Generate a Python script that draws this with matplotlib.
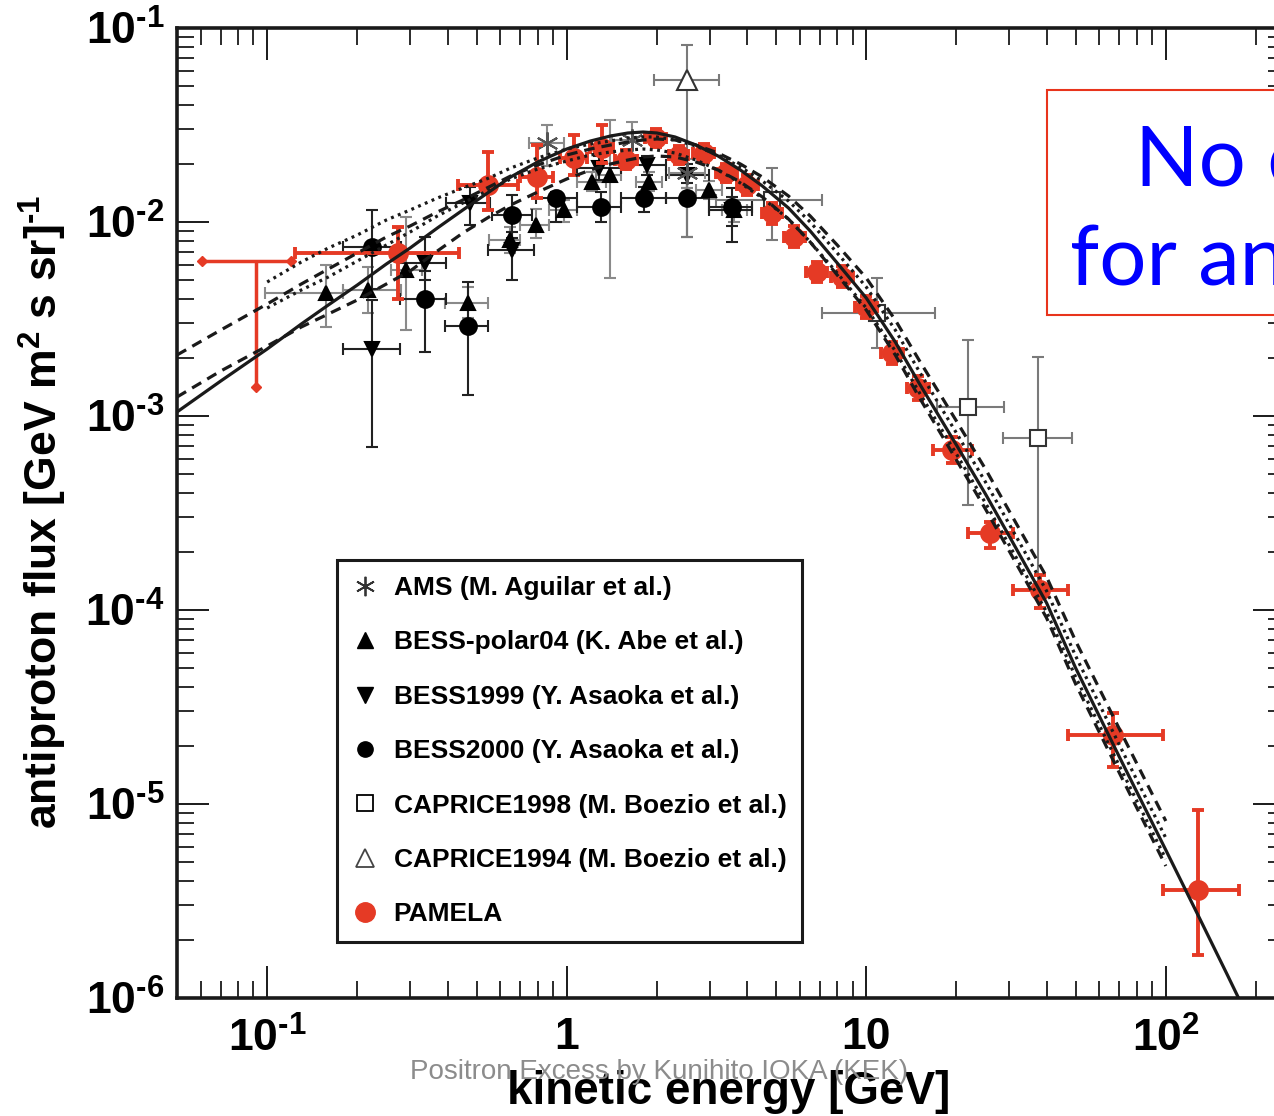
import numpy as np
import matplotlib
matplotlib.use("Agg")
import matplotlib.pyplot as plt
from matplotlib.patches import Rectangle
from matplotlib.lines import Line2D
from matplotlib.ticker import FixedLocator, LogLocator, NullFormatter

plt.rcParams['font.family'] = ['Liberation Sans', 'DejaVu Sans']
plt.rcParams['font.weight'] = 'bold'
plt.rcParams['mathtext.fontset'] = 'custom'
plt.rcParams['mathtext.rm'] = 'Liberation Sans:bold'
plt.rcParams['mathtext.bf'] = 'Liberation Sans:bold'
plt.rcParams['mathtext.default'] = 'rm'

RED = '#e53a25'
INK = '#1a1a1a'

# ---- model curves (kinetic energy GeV, flux) ----
E_grid = [0.05, 0.07, 0.1, 0.13, 0.16, 0.2, 0.25, 0.3, 0.37, 0.45, 0.55, 0.65, 0.8, 1, 1.2, 1.4, 1.6,
          1.8, 2, 2.3, 2.7, 3.2, 3.8, 4.5, 5.5, 6.5, 8, 10, 12.5, 15, 20, 25, 30, 40, 50, 70, 100]
E_solid = E_grid + [130, 160, 200]
F_solid = [1.049e-3, 1.515e-3, 2.215e-3, 2.980e-3, 3.734e-3, 4.734e-3, 6.075e-3, 7.344e-3, 9.312e-3,
           1.153e-2, 1.427e-2, 1.706e-2, 2.039e-2, 2.378e-2, 2.615e-2, 2.775e-2, 2.876e-2, 2.910e-2,
           2.876e-2, 2.743e-2, 2.494e-2, 2.189e-2, 1.854e-2, 1.533e-2, 1.181e-2, 8.987e-3, 6.147e-3,
           4.058e-3, 2.406e-3, 1.480e-3, 7.087e-4, 3.963e-4, 2.406e-4, 1.087e-4, 5.024e-5, 1.747e-5,
           5.793e-6, 2.554e-6, 1.329e-6, 6.523e-7]
F_dash_hi = [2.063e-3, 2.775e-3, 3.779e-3, 4.791e-3, 5.724e-3, 6.920e-3, 8.369e-3, 9.537e-3, 1.126e-2,
             1.299e-2, 1.515e-2, 1.726e-2, 1.967e-2, 2.215e-2, 2.378e-2, 2.494e-2, 2.584e-2, 2.646e-2,
             2.678e-2, 2.646e-2, 2.494e-2, 2.268e-2, 1.991e-2, 1.706e-2, 1.362e-2, 1.074e-2, 7.610e-3,
             5.145e-3, 3.125e-3, 1.944e-3, 9.424e-4, 5.331e-4, 3.238e-4, 1.480e-4, 6.920e-5, 2.435e-5,
             8.173e-6]
F_dash_lo = [1.253e-3, 1.706e-3, 2.295e-3, 2.876e-3, 3.356e-3, 3.963e-3, 4.791e-3, 5.590e-3, 7.087e-3,
             8.776e-3, 1.061e-2, 1.224e-2, 1.427e-2, 1.666e-2, 1.854e-2, 1.991e-2, 2.087e-2, 2.163e-2,
             2.189e-2, 2.163e-2, 2.039e-2, 1.854e-2, 1.608e-2, 1.346e-2, 1.036e-2, 7.886e-3, 5.331e-3,
             3.519e-3, 2.063e-3, 1.253e-3, 5.932e-4, 3.316e-4, 2.015e-4, 9.093e-5, 4.155e-5, 1.445e-5,
             4.791e-6]
E_dot = E_grid[2:]
F_dot_hi = [4.906e-3, 6.220e-3, 7.344e-3, 8.570e-3, 1.024e-2, 1.153e-2, 1.329e-2, 1.497e-2, 1.686e-2,
            1.898e-2, 2.138e-2, 2.378e-2, 2.523e-2, 2.615e-2, 2.710e-2, 2.743e-2, 2.743e-2, 2.646e-2,
            2.464e-2, 2.215e-2, 1.921e-2, 1.627e-2, 1.283e-2, 1.000e-2, 6.920e-3, 4.623e-3, 2.775e-3,
            1.706e-3, 8.173e-4, 4.569e-4, 2.775e-4, 1.253e-4, 5.793e-5, 2.015e-5, 6.680e-6]
F_dot_lo = [3.603e-3, 4.461e-3, 5.206e-3, 6.294e-3, 7.610e-3, 8.881e-3, 1.074e-2, 1.253e-2, 1.462e-2,
            1.666e-2, 1.876e-2, 2.063e-2, 2.215e-2, 2.295e-2, 2.350e-2, 2.378e-2, 2.350e-2, 2.268e-2,
            2.087e-2, 1.854e-2, 1.589e-2, 1.329e-2, 1.036e-2, 7.886e-3, 5.459e-3, 3.603e-3, 2.163e-3,
            1.329e-3, 6.369e-4, 3.561e-4, 2.163e-4, 9.765e-5, 4.514e-5, 1.570e-5, 5.206e-6]

# ---- PAMELA ----
pam_E = [0.274, 0.548, 0.794, 1.055, 1.31, 1.58, 1.99, 2.37, 2.88, 3.41, 4.01, 4.86, 5.76, 6.83, 8.28,
         10.0, 12.2, 14.9, 19.3, 25.9, 38.1, 66.4, 128]
pam_F = [6.9e-3, 1.55e-2, 1.71e-2, 2.14e-2, 2.40e-2, 2.09e-2, 2.71e-2, 2.21e-2, 2.27e-2, 1.79e-2, 1.55e-2,
         1.11e-2, 8.37e-3, 5.52e-3, 5.20e-3, 3.65e-3, 2.11e-3, 1.39e-3, 6.68e-4, 2.49e-4, 1.27e-4, 2.27e-5, 3.61e-6]
pam_Elo = [0.124, 0.435, 0.70, 0.95, 1.20, 1.45, 1.83, 2.20, 2.65, 3.15, 3.70, 4.50, 5.30, 6.30, 7.60,
           9.20, 11.2, 13.7, 16.7, 21.9, 31.0, 47.3, 97.7]
pam_Ehi = [0.438, 0.69, 0.90, 1.17, 1.43, 1.72, 2.15, 2.55, 3.10, 3.70, 4.35, 5.25, 6.25, 7.40, 9.00,
           10.9, 13.3, 16.2, 22.6, 31.0, 47.3, 97.7, 176]
pam_Flo = [4.0e-3, 1.15e-2, 1.33e-2, 1.75e-2, 2.01e-2, 1.87e-2, 2.45e-2, 1.98e-2, 2.04e-2, 1.60e-2, 1.38e-2,
           9.8e-3, 7.4e-3, 4.9e-3, 4.6e-3, 3.2e-3, 1.85e-3, 1.21e-3, 5.7e-4, 2.09e-4, 1.02e-4, 1.55e-5, 1.67e-6]
pam_Fhi = [9.4e-3, 2.30e-2, 2.49e-2, 2.81e-2, 3.16e-2, 2.35e-2, 3.0e-2, 2.46e-2, 2.52e-2, 2.0e-2, 1.74e-2,
           1.26e-2, 9.5e-3, 6.2e-3, 5.9e-3, 4.15e-3, 2.40e-3, 1.60e-3, 7.8e-4, 2.84e-4, 1.51e-4, 2.94e-5, 9.31e-6]
# lowest PAMELA bin (drawn without a marker)
pam0_E, pam0_F, pam0_Elo, pam0_Ehi, pam0_Flo = 0.0915, 6.3e-3, 0.0608, 0.12, 1.41e-3

# ---- AMS ----
ams_E = [0.857, 1.65, 2.52]
ams_F = [2.55e-2, 2.65e-2, 1.79e-2]
ams_Elo = [0.75, 1.415, 2.2]
ams_Ehi = [0.98, 1.96, 2.9]
ams_Flo = [1.95e-2, 2.14e-2, 1.5e-2]
ams_Fhi = [3.15e-2, 3.27e-2, 2.1e-2]

# ---- BESS-polar04 ----
bp_E = [0.157, 0.217, 0.291, 0.47, 0.649, 0.787, 0.977, 1.21, 1.39, 1.88, 2.99, 3.63]
bp_F = [4.31e-3, 4.46e-3, 5.66e-3, 3.82e-3, 8.07e-3, 9.66e-3, 1.15e-2, 1.61e-2, 1.75e-2, 1.61e-2, 1.46e-2, 1.15e-2]
bp_Elo = [0.098, 0.179, 0.26, 0.393, 0.55, 0.70, 0.87, 1.08, 1.25, 1.70, 2.70, 3.30]
bp_Ehi = [0.179, 0.28, 0.33, 0.548, 0.70, 0.87, 1.08, 1.35, 1.52, 2.08, 3.30, 4.00]
bp_Flo = [2.88e-3, 3.40e-3, 2.77e-3, 3.2e-3, 6.9e-3, 8.3e-3, 1.0e-2, 1.45e-2, 5.14e-3, 1.45e-2, 1.32e-2, 1.0e-2]
bp_Fhi = [6.0e-3, 5.86e-3, 1.06e-2, 4.6e-3, 9.4e-3, 1.16e-2, 1.3e-2, 1.8e-2, 3.36e-2, 1.8e-2, 1.62e-2, 1.3e-2]

# ---- BESS1999 ----
b99_E = [0.224, 0.337, 0.477, 0.659, 1.28, 1.85, 2.52, 3.57]
b99_F = [2.21e-3, 6.15e-3, 1.25e-2, 7.18e-3, 1.90e-2, 1.97e-2, 1.75e-2, 1.15e-2]
b99_Elo = [0.179, 0.274, 0.396, 0.548, 1.08, 1.52, 2.14, 2.99]
b99_Ehi = [0.278, 0.396, 0.556, 0.775, 1.52, 2.14, 2.99, 4.17]
b99_Flo = [6.92e-4, 5.02e-3, 9.66e-3, 5.02e-3, 1.65e-2, 1.75e-2, 1.5e-2, 9.5e-3]
b99_Fhi = [3.96e-3, 8.37e-3, 1.52e-2, 8.9e-3, 2.2e-2, 2.2e-2, 2.0e-2, 1.35e-2]

# ---- BESS2000 ----
b00_E = [0.224, 0.337, 0.47, 0.659, 0.919, 1.30, 1.81, 2.52, 3.57]
b00_F = [7.43e-3, 4.0e-3, 2.91e-3, 1.09e-2, 1.33e-2, 1.19e-2, 1.33e-2, 1.33e-2, 1.19e-2]
b00_Elo = [0.179, 0.278, 0.393, 0.561, 0.787, 1.08, 1.52, 2.14, 2.99]
b00_Ehi = [0.28, 0.396, 0.548, 0.763, 1.08, 1.52, 2.14, 2.99, 4.17]
b00_Flo = [4.5e-3, 2.14e-3, 1.28e-3, 8.3e-3, 1.0e-2, 1.0e-2, 1.13e-2, 8.37e-3, 7.9e-3]
b00_Fhi = [1.15e-2, 5.6e-3, 4.91e-3, 1.38e-2, 1.43e-2, 1.43e-2, 1.52e-2, 1.59e-2, 1.50e-2]

# ---- CAPRICE1998 ----
c98_E = [4.86, 10.9, 21.9, 37.3]
c98_F = [1.30e-2, 3.40e-3, 1.11e-3, 7.71e-4]
c98_Elo = [3.16, 7.10, 17.2, 28.7]
c98_Ehi = [7.10, 16.9, 28.9, 48.8]
c98_Flo = [8.07e-3, 2.24e-3, 3.48e-4, 1.27e-4]
c98_Fhi = [1.90e-2, 5.14e-3, 2.46e-3, 2.01e-3]

# ---- CAPRICE1994 ----
c94_E = [2.52]
c94_F = [5.39e-2]
c94_Elo = [1.96]
c94_Ehi = [3.23]
c94_Flo = [8.4e-3]
c94_Fhi = [8.2e-2]

labels = ['AMS (M. Aguilar et al.)', 'BESS-polar04 (K. Abe et al.)', 'BESS1999 (Y. Asaoka et al.)',
          'BESS2000 (Y. Asaoka et al.)', 'CAPRICE1998 (M. Boezio et al.)', 'CAPRICE1994 (M. Boezio et al.)',
          'PAMELA']
xtick_labels = [r'$10^{\text{-1}}$', '1', '10', r'$10^{2}$']
ytick_labels = [r'$10^{\text{-6}}$', r'$10^{\text{-5}}$', r'$10^{\text{-4}}$',
                r'$10^{\text{-3}}$', r'$10^{\text{-2}}$', r'$10^{\text{-1}}$']

fig = plt.figure(figsize=(12.74, 11.16), dpi=100)
ax = fig.add_axes([177/1274, 1-998/1116, 1108/1274, 970/1116])
ax.set_xscale('log')
ax.set_yscale('log')
ax.set_xlim(0.05, 250)
ax.set_ylim(1e-6, 1e-1)


def draw(E, F, Elo, Ehi, Flo, Fhi, marker, mfc, mec, ec, ms, lw=1.5, z=3, mew=1.5):
    E, F = np.array(E), np.array(F)
    xe = [E - np.array(Elo), np.array(Ehi) - E]
    ye = [F - np.array(Flo), np.array(Fhi) - F]
    ax.errorbar(E, F, xerr=xe, yerr=ye, fmt='none', ecolor=ec, elinewidth=lw,
                capsize=4, capthick=lw, zorder=z)
    ax.plot(E, F, ls='none', marker=marker, mfc=mfc, mec=mec, ms=ms, mew=mew, zorder=z + 0.5)


draw(bp_E, bp_F, bp_Elo, bp_Ehi, bp_Flo, bp_Fhi, '^', 'black', 'black', '#8a8a8a', 10)
draw(b99_E, b99_F, b99_Elo, b99_Ehi, b99_Flo, b99_Fhi, 'v', 'black', 'black', '#222222', 10)
draw(b00_E, b00_F, b00_Elo, b00_Ehi, b00_Flo, b00_Fhi, 'o', 'black', 'black', '#222222', 12)
draw(ams_E, ams_F, ams_Elo, ams_Ehi, ams_Flo, ams_Fhi, (6, 2, 0), 'none', '#555555', '#8a8a8a', 16)
draw(c98_E, c98_F, c98_Elo, c98_Ehi, c98_Flo, c98_Fhi, 's', 'white', '#333333', '#7a7a7a', 12)
draw(c94_E, c94_F, c94_Elo, c94_Ehi, c94_Flo, c94_Fhi, '^', 'white', '#333333', '#7a7a7a', 14)

# PAMELA
ax.errorbar([pam0_E], [pam0_F], xerr=[[pam0_E - pam0_Elo], [pam0_Ehi - pam0_E]],
            yerr=[[pam0_F - pam0_Flo], [0]], fmt='none', ecolor=RED, elinewidth=2.5,
            capsize=0, zorder=4)
ax.plot([pam0_Elo, pam0_Ehi, pam0_E], [pam0_F, pam0_F, pam0_Flo], 'D', color=RED, ms=5, zorder=4)
draw(pam_E, pam_F, pam_Elo, pam_Ehi, pam_Flo, pam_Fhi, 'o', RED, RED, RED, 15, lw=2.8, z=4, mew=0)

# model curves on top
ax.plot(E_solid, F_solid, '-', color=INK, lw=2.3, zorder=6)
ax.plot(E_grid, F_dash_hi, color=INK, lw=2.3, dashes=(3.3, 2.2), zorder=6)
ax.plot(E_grid, F_dash_lo, color=INK, lw=2.3, dashes=(3.3, 2.2), zorder=6)
ax.plot(E_dot, F_dot_hi, color=INK, lw=2.3, dashes=(0.9, 1.4), zorder=6)
ax.plot(E_dot, F_dot_lo, color=INK, lw=2.3, dashes=(0.9, 1.4), zorder=6)

# ticks
ax.xaxis.set_major_locator(FixedLocator([0.1, 1, 10, 100]))
ax.set_xticklabels(xtick_labels)
ax.yaxis.set_major_locator(FixedLocator([1e-6, 1e-5, 1e-4, 1e-3, 1e-2, 1e-1]))
ax.set_yticklabels(ytick_labels)
ax.xaxis.set_minor_locator(LogLocator(base=10, subs=np.arange(2, 10), numticks=20))
ax.yaxis.set_minor_locator(LogLocator(base=10, subs=np.arange(2, 10), numticks=20))
ax.xaxis.set_minor_formatter(NullFormatter())
ax.yaxis.set_minor_formatter(NullFormatter())
ax.tick_params(which='both', direction='in', top=True, right=True, color=INK)
ax.tick_params(which='major', length=23, width=1.4, labelsize=32)
ax.tick_params(which='minor', length=12, width=1.3)
ax.tick_params(axis='x', which='major', pad=14)
ax.tick_params(axis='y', which='major', pad=9)
for s in ax.spines.values():
    s.set_linewidth(2.6)
    s.set_color(INK)

# legend
handles = [
    Line2D([], [], marker=(6, 2, 0), ls='none', color='#333333', ms=14, mew=1.3),
    Line2D([], [], marker='^', ls='none', color='black', ms=11),
    Line2D([], [], marker='v', ls='none', color='black', ms=11),
    Line2D([], [], marker='o', ls='none', color='black', ms=11),
    Line2D([], [], marker='s', ls='none', mfc='white', mec='black', ms=11, mew=1.3),
    Line2D([], [], marker='^', ls='none', mfc='white', mec='#444444', ms=13, mew=1.3),
    Line2D([], [], marker='o', ls='none', color=RED, ms=14),
]
leg = ax.legend(handles, labels, loc='lower left', bbox_to_anchor=(0.1444, 0.0577),
                borderaxespad=0, fontsize=19, labelspacing=1.15, handlelength=0.9,
                handletextpad=0.65, borderpad=0.6, frameon=True, fancybox=False,
                edgecolor=INK, framealpha=1)
leg.get_frame().set_linewidth(2.2)
leg.set_zorder(10)

# axis labels
fig.text(43/1274, 1-512/1116, r'antiproton flux [GeV m$^{2}$ s sr]$^{\text{-1}}$', rotation=90,
         ha='center', va='center', fontsize=32, fontweight='bold')
fig.text(729/1274, 1-1092/1116, 'kinetic energy [GeV]', ha='center', va='center',
         fontsize=33, fontweight='bold')
fig.text(659/1274, 1-1072/1116, 'Positron Excess by Kunihito IOKA (KEK)', ha='center', va='center',
         fontsize=20, fontweight='normal', color='#8c8c8c', zorder=12)

# slide text box
box = Rectangle((1047/1274, 1-315/1116), 300/1274, 225/1116, transform=fig.transFigure,
                facecolor='white', edgecolor='#e8341c', lw=1.5, zorder=11)
fig.add_artist(box)
fig.text(1135/1274, 1-185/1116, 'No excess', ha='left', va='baseline', fontsize=60,
         fontweight='normal', color='#0000ff', family=['Lato', 'DejaVu Sans'], zorder=12)
fig.text(1070/1274, 1-285/1116, 'for antiprotons', ha='left', va='baseline', fontsize=60,
         fontweight='normal', color='#0000ff', family=['Lato', 'DejaVu Sans'], zorder=12)

fig.savefig('out.png', dpi=100)
